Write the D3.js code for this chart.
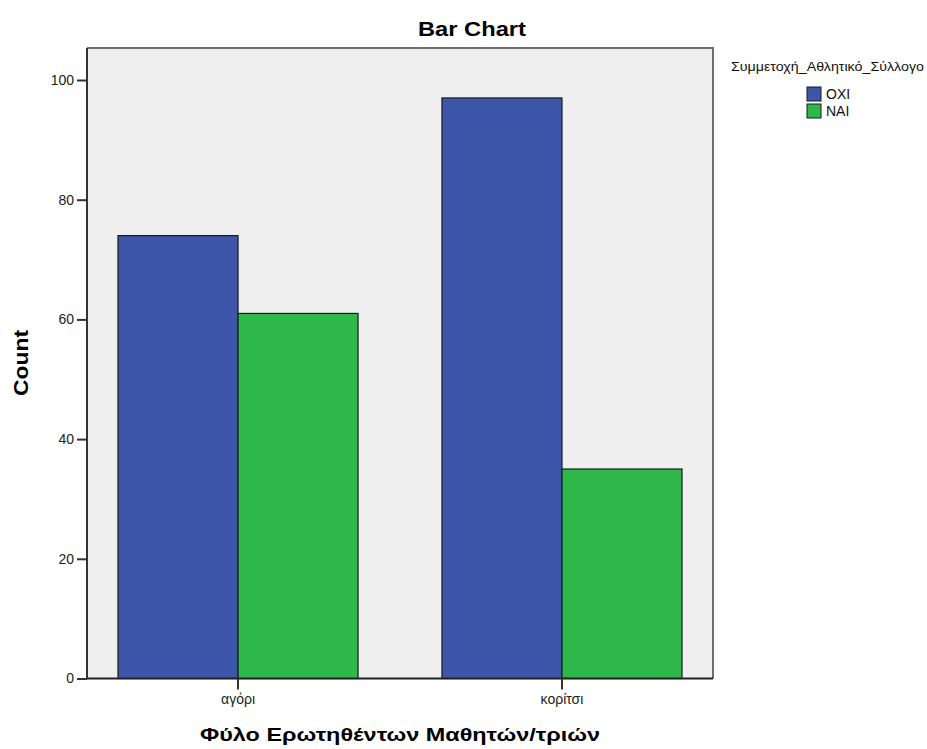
<!DOCTYPE html>
<html>
<head>
<meta charset="utf-8">
<script src="https://cdn.jsdelivr.net/npm/d3@7"></script>
<style>
  html, body { margin: 0; padding: 0; background: #ffffff; }
  svg { display: block; font-family: "Liberation Sans", Arial, sans-serif; }
</style>
</head>
<body>
<svg id="chart" width="927" height="749"></svg>
<script>
// Counts of students per gender, split by sports-club membership
const categories = ["αγόρι", "κορίτσι"];
const seriesNames = ["ΟΧΙ", "ΝΑΙ"];
const valuesOXI = [74, 97];
const valuesNAI = [61, 35];
const yTicks = [0, 20, 40, 60, 80, 100];

const seriesColors = { "ΟΧΙ": "#3e56a9", "ΝΑΙ": "#2fb84a" };
const rows = categories.map((c, i) => ({ category: c, values: [valuesOXI[i], valuesNAI[i]] }));

const svg = d3.select("#chart");

const plot = { left: 87, right: 713, top: 48, bottom: 678.5 };

const y = d3.scaleLinear().domain([0, 100]).range([plot.bottom, 80]);
const x0 = d3.scaleBand().domain(categories).range([plot.left, plot.right])
  .paddingInner(0.259).paddingOuter(0.0957);
const x1 = d3.scaleBand().domain(seriesNames).range([0, x0.bandwidth()]);

// plot background
svg.append("rect")
  .attr("x", plot.left).attr("y", plot.top)
  .attr("width", plot.right - plot.left).attr("height", plot.bottom - plot.top)
  .attr("fill", "#efefef");

// bars
const groups = svg.append("g").selectAll("g").data(rows).join("g")
  .attr("transform", d => `translate(${x0(d.category)},0)`);
groups.selectAll("rect")
  .data(d => d.values.map((v, i) => ({ key: seriesNames[i], value: v })))
  .join("rect")
  .attr("x", d => x1(d.key))
  .attr("y", d => y(d.value))
  .attr("width", x1.bandwidth())
  .attr("height", d => y(0) - y(d.value))
  .attr("fill", d => seriesColors[d.key])
  .attr("stroke", "#1a1a1a")
  .attr("stroke-width", 1.2);

// frame top and right
svg.append("path")
  .attr("d", `M${plot.left},${plot.top}H${plot.right}V${plot.bottom}`)
  .attr("fill", "none").attr("stroke", "#6e6e6e").attr("stroke-width", 2);

// y axis
const yAxis = svg.append("g")
  .attr("transform", `translate(${plot.left},0)`)
  .call(d3.axisLeft(y).tickValues(yTicks).tickSize(10).tickPadding(3).tickFormat(d3.format("d")));
yAxis.select(".domain").attr("d", `M0,${plot.top}V${plot.bottom}`)
  .attr("stroke", "#333").attr("stroke-width", 2);
yAxis.selectAll(".tick line").attr("stroke", "#333").attr("stroke-width", 2);
yAxis.selectAll(".tick text").attr("font-size", 14).attr("fill", "#222")
  .attr("font-family", "Liberation Sans, Arial, sans-serif");

// x axis
const xAxis = svg.append("g")
  .attr("transform", `translate(0,${plot.bottom})`)
  .call(d3.axisBottom(x0).tickSize(11).tickPadding(5));
xAxis.select(".domain").attr("d", `M${plot.left},0H${plot.right}`)
  .attr("stroke", "#222").attr("stroke-width", 2);
xAxis.selectAll(".tick line").attr("stroke", "#333").attr("stroke-width", 2);
xAxis.selectAll(".tick text").attr("font-size", 14).attr("fill", "#222")
  .attr("font-family", "Liberation Sans, Arial, sans-serif");

// titles
svg.append("text")
  .attr("x", 472).attr("y", 36)
  .attr("text-anchor", "middle")
  .attr("font-size", 21).attr("font-weight", "bold")
  .attr("textLength", 108).attr("lengthAdjust", "spacingAndGlyphs")
  .text("Bar Chart");

svg.append("text")
  .attr("transform", "translate(28,363) rotate(-90)")
  .attr("text-anchor", "middle")
  .attr("font-size", 20).attr("font-weight", "bold")
  .attr("textLength", 66).attr("lengthAdjust", "spacingAndGlyphs")
  .text("Count");

svg.append("text")
  .attr("x", 400).attr("y", 741)
  .attr("text-anchor", "middle")
  .attr("font-size", 19).attr("font-weight", "bold")
  .attr("textLength", 400).attr("lengthAdjust", "spacingAndGlyphs")
  .text("Φύλο Ερωτηθέντων Μαθητών/τριών");

// legend
const legend = svg.append("g");
legend.append("text")
  .attr("x", 731).attr("y", 71)
  .attr("font-size", 12)
  .attr("textLength", 193).attr("lengthAdjust", "spacingAndGlyphs")
  .attr("fill", "#111")
  .text("Συμμετοχή_Αθλητικό_Σύλλογο");

const items = legend.selectAll("g.item").data(seriesNames).join("g")
  .attr("class", "item")
  .attr("transform", (d, i) => `translate(807,${87 + i * 17})`);
items.append("rect")
  .attr("width", 14).attr("height", 14)
  .attr("fill", d => seriesColors[d])
  .attr("stroke", "#1a1a1a").attr("stroke-width", 1);
items.append("text")
  .attr("x", 19).attr("y", 12)
  .attr("font-size", 14).attr("fill", "#111")
  .text(d => d);
</script>
</body>
</html>
